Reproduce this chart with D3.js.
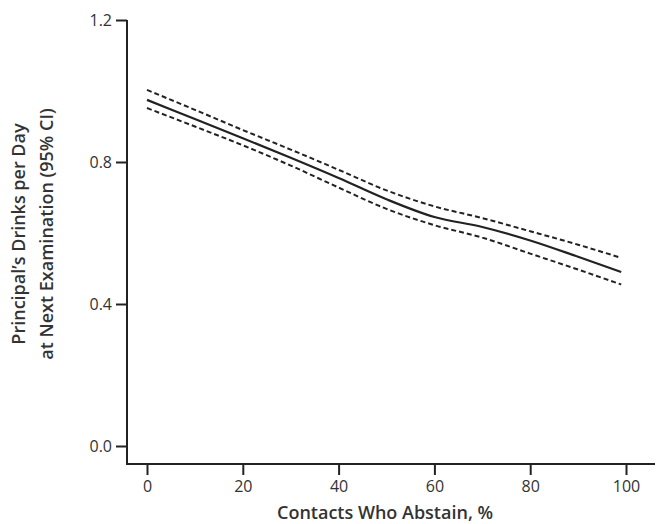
<!DOCTYPE html>
<html>
<head>
<meta charset="utf-8">
<script src="https://cdn.jsdelivr.net/npm/d3@7"></script>
<style>
  body { margin: 0; background: #fff; }
  text { font-family: "Open Sans", sans-serif; fill: #333; }
</style>
</head>
<body>
<svg id="chart" width="656" height="524"></svg>
<script>
// percent of contacts who abstain
const pct = [0, 10, 20, 30, 40, 50, 60, 70, 80, 90, 99];
// estimate and 95% CI
const est = [0.975, 0.921, 0.867, 0.812, 0.755, 0.695, 0.645, 0.617, 0.579, 0.533, 0.490];
const lower = [0.952, 0.900, 0.847, 0.790, 0.728, 0.668, 0.622, 0.587, 0.542, 0.497, 0.455];
const upper = [1.003, 0.947, 0.890, 0.835, 0.778, 0.720, 0.675, 0.642, 0.605, 0.567, 0.530];
const xTicks = [0, 20, 40, 60, 80, 100];
const yTicks = [0.0, 0.4, 0.8, 1.2];

const svg = d3.select("svg#chart");

const x = d3.scaleLinear().domain([0, 100]).range([147, 626]);
const y = d3.scaleLinear().domain([0, 1.2]).range([446, 20]);

const ink = "#222";

// axes lines
svg.append("line")
    .attr("x1", 127).attr("x2", 127)
    .attr("y1", 20).attr("y2", 464)
    .attr("stroke", ink).attr("stroke-width", 2);
svg.append("line")
    .attr("x1", 126).attr("x2", 655)
    .attr("y1", 464).attr("y2", 464)
    .attr("stroke", ink).attr("stroke-width", 2);

const yAxis = svg.append("g")
    .attr("transform", "translate(127,0)")
    .call(d3.axisLeft(y).tickValues(yTicks).tickFormat(d3.format(".1f")).tickSize(11).tickPadding(4));
const xAxis = svg.append("g")
    .attr("transform", "translate(0,464)")
    .call(d3.axisBottom(x).tickValues(xTicks).tickSize(11).tickPadding(6));

[yAxis, xAxis].forEach(g => {
    g.select(".domain").remove();
    g.selectAll(".tick line").attr("stroke", ink).attr("stroke-width", 2);
    g.selectAll(".tick text")
        .style("font-family", '"Open Sans", sans-serif')
        .style("font-size", "16px")
        .attr("fill", "#333");
});

const line = vals => d3.line()
    .x((d, i) => x(pct[i]))
    .y(d => y(d))
    .curve(d3.curveMonotoneX)(vals);

svg.append("path")
    .attr("d", line(upper))
    .attr("fill", "none").attr("stroke", ink)
    .attr("stroke-width", 2).attr("stroke-dasharray", "5,3");
svg.append("path")
    .attr("d", line(lower))
    .attr("fill", "none").attr("stroke", ink)
    .attr("stroke-width", 2).attr("stroke-dasharray", "5,3");
svg.append("path")
    .attr("d", line(est))
    .attr("fill", "none").attr("stroke", ink)
    .attr("stroke-width", 2.2);

// axis titles
svg.append("text")
    .attr("x", 385).attr("y", 519)
    .attr("text-anchor", "middle")
    .style("font-size", "18px").style("font-weight", 600)
    .text("Contacts Who Abstain, %");

const yt = svg.append("text")
    .attr("transform", "translate(0,234) rotate(-90)")
    .attr("text-anchor", "middle")
    .style("font-size", "18px").style("font-weight", 600);
yt.append("tspan").attr("x", 0).attr("y", 25).text("Principal\u2019s Drinks per Day");
yt.append("tspan").attr("x", 0).attr("y", 53).text("at Next Examination (95% CI)");
</script>
</body>
</html>
